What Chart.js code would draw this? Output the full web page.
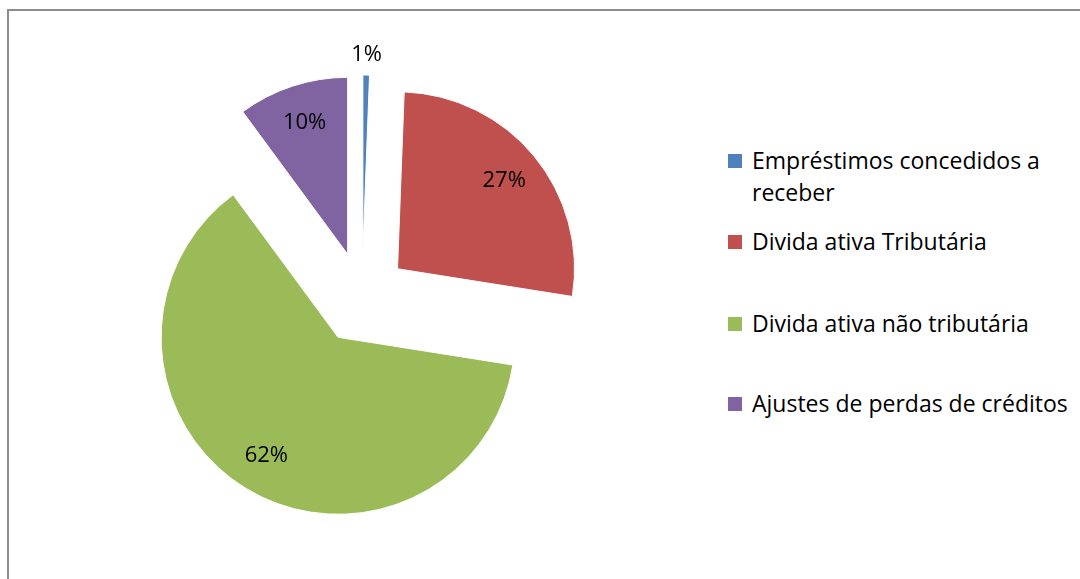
<!DOCTYPE html>
<html lang="pt">
<head>
  <meta charset="UTF-8" />
  <title>Composição dos créditos</title>
  <script src="https://cdn.jsdelivr.net/npm/chart.js"></script>
  <style>
    * {
      margin: 0;
      padding: 0;
      box-sizing: border-box;
    }

    body {
      width: 1080px;
      height: 579px;
      overflow: hidden;
      background: #fff;
      font-family: 'Open Sans', sans-serif;
      position: relative;
    }

    .frame {
      position: absolute;
      left: 7px;
      top: 9px;
      width: 1200px;
      height: 700px;
      border: 2px solid #8c8c8c;
    }

    .chart-box {
      position: absolute;
      left: 0;
      top: 0;
      width: 724px;
      height: 596px;
    }

    .legend {
      position: absolute;
      left: 728px;
      top: 144px;
      list-style: none;
      font-size: 23px;
      line-height: 32px;
      color: #000;
    }

    .legend li {
      position: relative;
      padding-left: 24px;
    }

    .legend li span.box {
      position: absolute;
      left: 0;
      top: 10px;
      width: 14px;
      height: 14px;
    }

    .legend li:nth-child(2) { margin-top: 17px; }
    .legend li:nth-child(3) { margin-top: 50px; }
    .legend li:nth-child(4) { margin-top: 48px; }
  </style>
</head>
<body>
  <div class="frame"></div>
  <div class="chart-box">
    <canvas id="pieChart"></canvas>
  </div>
  <ul class="legend" id="legend"></ul>

  <script>
    // categorias (cada linha do rótulo é um item)
    const labels = [
      ['Empréstimos concedidos a', 'receber'],
      ['Divida ativa Tributária'],
      ['Divida ativa não tributária'],
      ['Ajustes de perdas de créditos']
    ];
    // participação de cada item (%)
    const shares = [0.6, 26.9, 62.4, 10.1];
    const colors = ['#4F81BD', '#C0504D', '#9BBB59', '#8064A2'];

    const EXPLODE = 46;   // deslocamento das fatias, px
    const RADIUS = 177;

    // desenha cada fatia deslocada para fora, sem mudar o raio
    const explodePlugin = {
      id: 'explode',
      beforeDatasetDraw(chart, args) {
        const ctx = chart.ctx;
        args.meta.data.forEach(arc => {
          const mid = (arc.startAngle + arc.endAngle) / 2;
          ctx.save();
          ctx.translate(Math.cos(mid) * EXPLODE, Math.sin(mid) * EXPLODE);
          arc.draw(ctx);
          ctx.restore();
        });
        return false;
      }
    };

    // rótulos de porcentagem
    const pctLabels = {
      id: 'pctLabels',
      afterDatasetsDraw(chart) {
        const ctx = chart.ctx;
        const meta = chart.getDatasetMeta(0);
        const data = chart.data.datasets[0].data;
        const total = data.reduce((a, b) => a + b, 0);
        ctx.save();
        ctx.font = '22px "Open Sans"';
        ctx.fillStyle = '#000';
        ctx.textAlign = 'center';
        ctx.textBaseline = 'middle';
        meta.data.forEach((arc, i) => {
          const mid = (arc.startAngle + arc.endAngle) / 2;
          const span = arc.endAngle - arc.startAngle;
          const r = span < 0.15 ? arc.outerRadius + 20 : arc.outerRadius * 0.78;
          const d = EXPLODE + r;
          const pct = Math.round(data[i] / total * 100) + '%';
          ctx.fillText(pct, arc.x + Math.cos(mid) * d, arc.y + Math.sin(mid) * d);
        });
        ctx.restore();
      }
    };

    const ctx = document.getElementById('pieChart').getContext('2d');
    const pieChart = new Chart(ctx, {
      type: 'pie',
      data: {
        labels: labels.map(l => l.join(' ')),
        datasets: [{
          data: shares,
          backgroundColor: colors,
          borderColor: '#fff',
          borderWidth: 1,
          radius: RADIUS
        }]
      },
      options: {
        responsive: true,
        maintainAspectRatio: false,
        animation: false,
        plugins: {
          legend: { display: false },
          tooltip: { enabled: false }
        }
      },
      plugins: [explodePlugin, pctLabels]
    });

    // legenda
    const legend = document.getElementById('legend');
    labels.forEach((lines, i) => {
      const li = document.createElement('li');
      const box = document.createElement('span');
      box.className = 'box';
      box.style.background = colors[i];
      li.appendChild(box);
      li.insertAdjacentHTML('beforeend', lines.join('<br>'));
      legend.appendChild(li);
    });
  </script>
</body>
</html>
